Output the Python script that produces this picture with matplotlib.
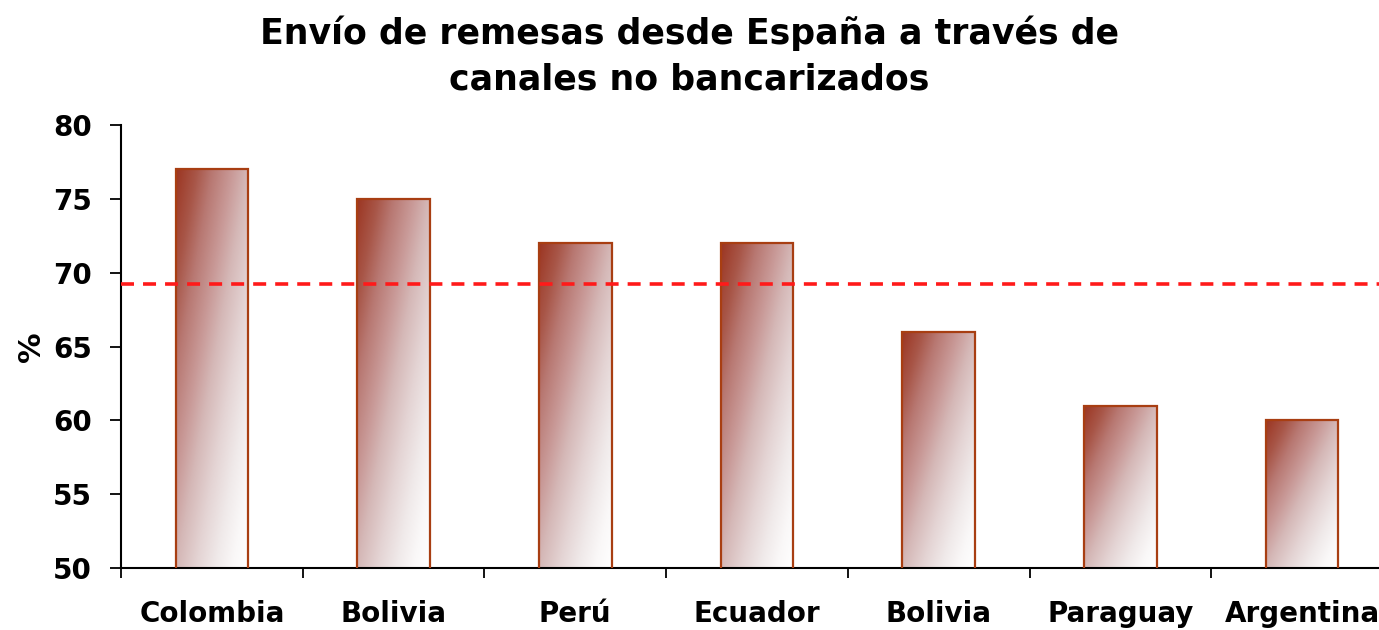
import numpy as np
import matplotlib
matplotlib.use("Agg")
import matplotlib.pyplot as plt
from matplotlib.colors import LinearSegmentedColormap

categories = ["Colombia", "Bolivia", "Perú", "Ecuador", "Bolivia", "Paraguay", "Argentina"]
values = [77, 75, 72, 72, 66, 61, 60]
average = 69.2
y_ticks = [50, 55, 60, 65, 70, 75, 80]
title = "Envío de remesas desde España a través de\ncanales no bancarizados"

plt.rcParams['font.family'] = ['DejaVu Sans']

fig = plt.figure(figsize=(13.79, 6.30), dpi=100)
ax = fig.add_axes([121/1379, 1-568/630, (1393-121)/1379, (568-125)/630])

x = np.arange(len(categories))
bars = ax.bar(x, values, width=0.4, bottom=0, color='none',
              edgecolor='#a83e12', linewidth=1.6, zorder=3)

stops = [(0.0, (156, 54, 34)), (0.14, (168, 86, 72)), (0.25, (184, 120, 114)),
         (0.39, (201, 154, 152)), (0.5, (213, 184, 183)), (0.64, (228, 212, 212)),
         (0.775, (240, 234, 234)), (0.89, (250, 248, 248)), (1.0, (255, 255, 255))]
cmap = LinearSegmentedColormap.from_list(
    'grad', [(p, tuple(c / 255 for c in rgb)) for p, rgb in stops])
nu, nv = 80, 240
u = np.linspace(0, 1, nu)[None, :]
v = np.linspace(1, 0, nv)[:, None]  # top row first
t = np.clip(0.5 * u + 0.5 * (1 - v), 0, 1)

ax.set_ylim(50, 80)
ax.set_xlim(-0.5, len(categories) - 0.5)

for b in bars:
    x0, y0 = b.get_x(), 50
    w, h = b.get_width(), b.get_height()
    im = ax.imshow(t, cmap=cmap, vmin=0, vmax=1, aspect='auto',
                   extent=[x0, x0 + w, y0, h], origin='upper',
                   zorder=2, interpolation='bilinear')
    im.set_clip_path(b)

ax.set_xlim(-0.5, len(categories) - 0.5)
ax.set_ylim(50, 80)

ax.axhline(average, color='#ff1a1a', linewidth=2.6, dashes=(3.6, 2.5), zorder=4)

ax.spines['top'].set_visible(False)
ax.spines['right'].set_visible(False)
ax.spines['left'].set_linewidth(1.5)
ax.spines['bottom'].set_linewidth(1.5)

ax.set_yticks(y_ticks)
ax.set_yticklabels([str(v) for v in y_ticks], fontsize=20, fontweight='bold')
ax.tick_params(axis='y', length=8, width=1.3, pad=13)

ax.set_xticks(np.arange(len(categories) + 1) - 0.5)
ax.set_xticklabels([])
ax.tick_params(axis='x', which='major', length=7, width=1.3)
ax.set_xticks(x, minor=True)
ax.set_xticklabels(categories, minor=True, fontsize=20, fontweight='bold')
ax.tick_params(axis='x', which='minor', length=0, pad=23)

ax.set_ylabel('%', fontsize=22, fontweight='bold', labelpad=5)

fig.suptitle(title, fontsize=25, fontweight='bold', x=0.5, y=0.975, va='top',
             linespacing=1.42)

fig.savefig('out.png', dpi=100)
